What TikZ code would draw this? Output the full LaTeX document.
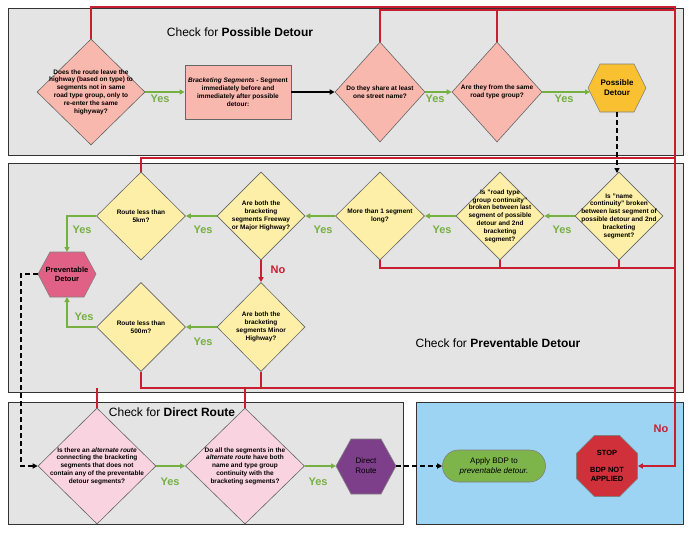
\documentclass[tikz,border=0pt]{standalone}
\usepackage{fontspec}
\setmainfont{Liberation Sans}
\usetikzlibrary{shapes.geometric,arrows.meta}
\definecolor{pnl}{HTML}{E4E4E4}
\definecolor{salmon}{HTML}{F9B8AE}
\definecolor{ylw}{HTML}{FEEFA8}
\definecolor{pnk}{HTML}{F9D4E0}
\definecolor{red1}{HTML}{C81E30}
\definecolor{grn}{HTML}{76B041}
\definecolor{blu}{HTML}{9DD4F3}
\begin{document}
\begin{tikzpicture}[x=1pt,y=-1pt,
 panel/.style={draw=black!80,line width=1pt,fill=pnl},
 dia/.style={diamond,draw=black!60,line width=0.6pt,inner sep=0pt},
 txt/.style={align=center,font=\bfseries\fontsize{6.5}{7.8}\selectfont,inner sep=0pt},
 yes/.style={text=grn,font=\bfseries\fontsize{11}{12}\selectfont},
 no/.style={text=red1,font=\bfseries\fontsize{11}{12}\selectfont},
 ga/.style={draw=grn,line width=1.4pt,-{Triangle[length=5pt,width=5pt]}},
 rl/.style={draw=red1,line width=1.4pt},
 ra/.style={rl,-{Triangle[length=5pt,width=5pt]}},
 da/.style={draw=black,line width=1.4pt,dash pattern=on 5pt off 3pt,-{Triangle[length=5pt,width=5pt]}},
 ttl/.style={font=\fontsize{12}{14}\selectfont}]
\useasboundingbox (0,0) rectangle (690,533);
\fill[white] (0,0) rectangle (690,533);
% panels
\draw[panel] (8,8) rectangle (683,155);
\draw[panel] (8,163) rectangle (683,392);
\draw[panel] (8,402) rectangle (403,524);
\draw[draw=black!80,line width=1pt,fill=blu] (416,402) rectangle (683,524);
\node[ttl] at (240,32) {Check for \textbf{Possible Detour}};
\node[ttl] at (498,343) {Check for \textbf{Preventable Detour}};
\node[ttl] at (172,412) {Check for \textbf{Direct Route}};
% red lines (behind)
\draw[rl] (91,40) -- (91,7) -- (675,7) -- (675,463);
\draw[rl] (380,43) -- (380,10) -- (675,10);
\draw[rl] (497,43) -- (497,10);
\draw[rl] (141,173) -- (141,158) -- (675,158);
\draw[rl] (380,260) -- (380,268) -- (675,268);
\draw[rl] (500,260) -- (500,268);
\draw[rl] (619,260) -- (619,268);
\draw[rl] (141,372) -- (141,388) -- (675,388);
\draw[rl] (261,372) -- (261,388);
\draw[rl] (97,408) -- (97,388);
\draw[rl] (245,408) -- (245,388);
% panel 1
\node[dia,fill=salmon,minimum width=108,minimum height=106] (d1) at (91,92) {};
\node[txt] at (d1) {Does the route leave the\\highway (based on type) to\\segments not in same\\road type group, only to\\re-enter the same\\highyway?};
\node[draw=black!60,line width=0.8pt,fill=salmon,minimum width=106,minimum height=54,txt,inner sep=0pt] (r1) at (238,92) {\textit{Bracketing Segments} - Segment\\immediately before and\\immediately after possible\\detour:};
\node[dia,fill=salmon,minimum width=90,minimum height=100] (d3) at (380,92) {};
\node[txt] at (d3) {Do they share at least\\one street name?};
\node[dia,fill=salmon,minimum width=90,minimum height=100] (d4) at (497,92) {};
\node[txt] at (d4) {Are they from the same\\road type group?};
\fill[fill={rgb,255:red,249;green,193;blue,50},draw=black!50,line width=0.6pt] (588,88)--(600,64)--(634,64)--(646,88)--(634,112)--(600,112)--cycle;
\node[txt,font=\bfseries\fontsize{8}{10}\selectfont] (pd) at (617,88) {Possible\\Detour};
\coordinate (pdb) at (617,112);
\draw[ga] (d1.east) -- (r1.west);
\draw[draw=black,line width=1.4pt,-{Triangle[length=5pt,width=5pt]}] (r1.east) -- (d3.west);
\draw[ga] (d3.east) -- (d4.west);
\draw[ga] (d4.east) -- (590,92);
\node[yes] at (160,99) {Yes};
\node[yes] at (435,99) {Yes};
\node[yes] at (564,99) {Yes};
% panel 2
\node[dia,fill=ylw,minimum width=88,minimum height=88] (n1) at (619,216) {};
\node[txt] at (n1) {Is "name\\continuity" broken\\between last segment of\\possible detour and 2nd\\bracketing\\segment?};
\node[dia,fill=ylw,minimum width=88,minimum height=88] (n2) at (500,216) {};
\node[txt] at (n2) {Is "road type\\group continuity"\\broken between last\\segment of possible\\detour and 2nd\\bracketing\\segment?};
\node[dia,fill=ylw,minimum width=89,minimum height=88] (n3) at (380,216) {};
\node[txt] at (n3) {More than 1 segment\\long?};
\node[dia,fill=ylw,minimum width=88,minimum height=88] (n4) at (261,216) {};
\node[txt] at (n4) {Are both the\\bracketing\\segments Freeway\\or Major Highway?};
\node[dia,fill=ylw,minimum width=89,minimum height=88] (n5) at (141,216) {};
\node[txt] at (n5) {Route less than\\5km?};
\node[dia,fill=ylw,minimum width=88,minimum height=89] (n6) at (261,327) {};
\node[txt] at (n6) {Are both the\\bracketing\\segments Minor\\Highway?};
\node[dia,fill=ylw,minimum width=89,minimum height=89] (n7) at (141,327) {};
\node[txt] at (n7) {Route less than\\500m?};
\fill[fill={rgb,255:red,224;green,96;blue,134},draw=black!50,line width=0.6pt] (38,274)--(50,252)--(84,252)--(96,274)--(84,297)--(50,297)--cycle;
\node[txt,font=\bfseries\fontsize{7.5}{9}\selectfont] (pv) at (67,274) {Preventable\\Detour};
\coordinate (pvt) at (67,252); \coordinate (pvb) at (67,297); \coordinate (pvl) at (38,274);
\draw[da] (pdb) -- (617,173);
\draw[ga] (n1.west) -- (n2.east);
\draw[ga] (n2.west) -- (n3.east);
\draw[ga] (n3.west) -- (n4.east);
\draw[ga] (n4.west) -- (n5.east);
\draw[ga] (n5.west) -| (pvt);
\draw[ga] (n6.west) -- (n7.east);
\draw[ga] (n7.west) -| (pvb);
\draw[ra] (n4.south) -- (n6.north);
\node[no] at (278,270) {No};
\node[yes] at (82,230) {Yes};
\node[yes] at (203,230) {Yes};
\node[yes] at (323,230) {Yes};
\node[yes] at (442,230) {Yes};
\node[yes] at (562,230) {Yes};
\node[yes] at (84,317) {Yes};
\node[yes] at (203,342) {Yes};
% panel 3
\node[dia,fill=pnk,minimum width=118,minimum height=116] (a1) at (97,466) {};
\node[txt] at (a1) {Is there an \textit{alternate route}\\connecting the bracketing\\segments that does not\\contain any of the preventable\\detour segments?};
\node[dia,fill=pnk,minimum width=119,minimum height=116] (a2) at (245,466) {};
\node[txt] at (a2) {Do all the segments in the\\\textit{alternate route} have both\\name and type group\\continuity with the\\bracketing segments?};
\fill[fill={rgb,255:red,126;green,63;blue,138},draw=black!50,line width=0.6pt] (336,466)--(351,439)--(381,439)--(396,466)--(381,494)--(351,494)--cycle;
\node[txt,font=\fontsize{8}{10}\selectfont] (dr) at (366,466) {Direct\\Route};
\draw[da] (pvl) -- (21,274) -- (21,466) -- (a1.west);
\draw[ga] (a1.east) -- (a2.west);
\draw[ga] (a2.east) -- (336,466);
\node[yes] at (170,482) {Yes};
\node[yes] at (318,482) {Yes};
\node[draw=black!50,line width=0.6pt,fill={rgb,255:red,125;green,181;blue,74},rounded corners=16pt,minimum width=103,minimum height=32,align=center,font=\fontsize{8}{10}\selectfont] (ap) at (494,466) {Apply BDP to\\\textit{preventable detour.}};
\draw[da] (396,466) -- (ap.west);
\node[regular polygon,regular polygon sides=8,minimum size=66,draw=black!50,line width=0.6pt,fill={rgb,255:red,208;green,48;blue,58},inner sep=0pt] (st) at (607,466) {};
\node[txt,font=\bfseries\fontsize{7.5}{9}\selectfont] at (607,466) {STOP\\[8pt]BDP NOT\\APPLIED};
\draw[ra] (675,460) |- (st.east);
\node[no] at (661,429) {No};
\end{tikzpicture}
\end{document}
